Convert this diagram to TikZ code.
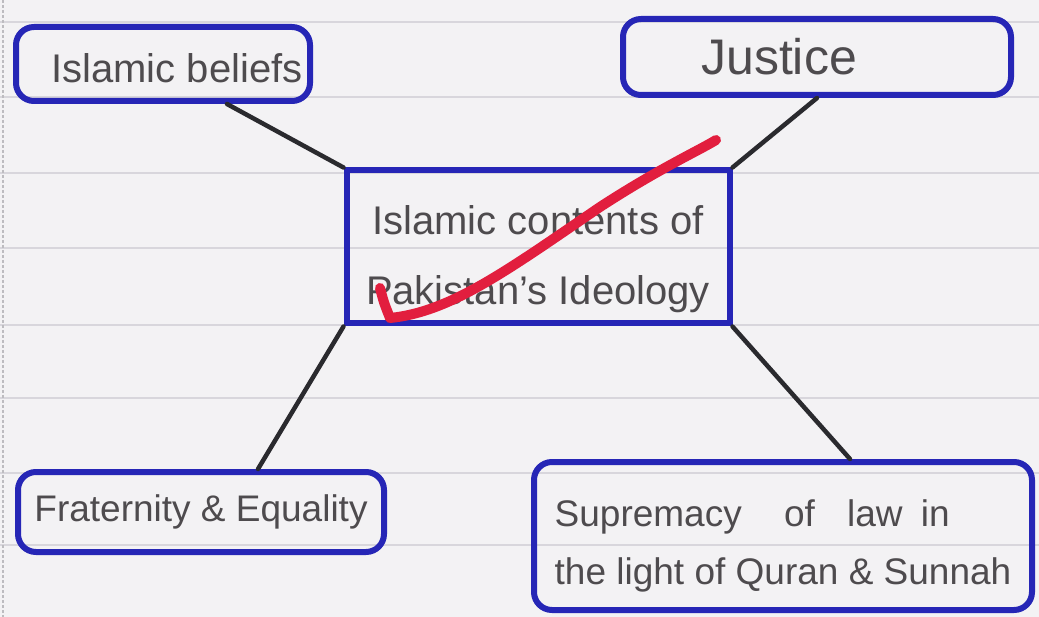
\documentclass[tikz,border=0pt]{standalone}
\usepackage{fontspec}
\setmainfont{Liberation Sans}
\usetikzlibrary{calc}
\definecolor{paper}{RGB}{243,242,244}
\definecolor{ruleline}{RGB}{216,214,220}
\definecolor{ink}{RGB}{38,38,182}
\definecolor{pencil}{RGB}{78,75,78}
\definecolor{conncol}{RGB}{42,42,46}
\definecolor{redpen}{RGB}{226,30,62}
\tikzset{
  boxr/.style={draw=ink, line width=6pt, rounded corners=18pt, inner sep=0pt, text=pencil, align=center},
  boxs/.style={draw=ink, line width=6pt, inner sep=0pt, text=pencil, align=center},
  conn/.style={draw=conncol, line width=4.5pt, line cap=round},
  redstroke/.style={draw=redpen, line width=10pt, line cap=round, line join=round}
}
\begin{document}
\begin{tikzpicture}[x=1pt,y=-1pt]
\fill[paper] (0,0) rectangle (1039,617);
\useasboundingbox (0,0) rectangle (1039,617);
\foreach \yy in {22,97,173,248,325,398,473,545}
  \draw[ruleline, line width=1.2pt] (0,\yy) -- (1039,\yy);
\draw[ruleline!70!gray, line width=1.5pt, dash pattern=on 3pt off 2pt] (3,0) -- (3,617);

\node[boxr, minimum width=294pt, minimum height=74pt, font=\fontsize{40}{48}\selectfont] (beliefs) at (163,64) {\rule{0pt}{37pt}\hspace*{28pt}Islamic beliefs};
\node[boxr, minimum width=388pt, minimum height=76pt, font=\fontsize{50}{60}\selectfont] (justice) at (817,57) {Justice\hspace*{76pt}};
\node[boxs, minimum width=383pt, minimum height=153pt, font=\fontsize{40}{70}\selectfont] (center) at (538,247) {\rule{0pt}{53pt}Islamic contents of\\Pakistan's Ideology};
\node[boxr, minimum width=366pt, minimum height=80pt, font=\fontsize{37}{44}\selectfont] (frat) at (201,512) {Fraternity \& Equality};
\node[boxr, minimum width=498pt, minimum height=148pt, align=left, font=\fontsize{37}{58}\selectfont] (supr) at (783,536) {\rule{0pt}{47pt}Supremacy\hspace{32pt} of\hspace{22pt} law\hspace{8pt} in\\the light of Quran \& Sunnah};

\draw[conn] ([xshift=64pt]beliefs.south) -- (center.north west);
\draw[conn] (justice.south) -- (center.north east);
\draw[conn] (center.south west) -- ([xshift=57pt]frat.north);
\draw[conn] (center.south east) -- ([xshift=67pt]supr.north);

\draw[redstroke] (380,288) .. controls (384,303) .. (390,318)
  .. controls (450,312) and (505,272) .. (600,207)
  .. controls (660,168) and (700,150) .. (716,140);
\end{tikzpicture}
\end{document}
